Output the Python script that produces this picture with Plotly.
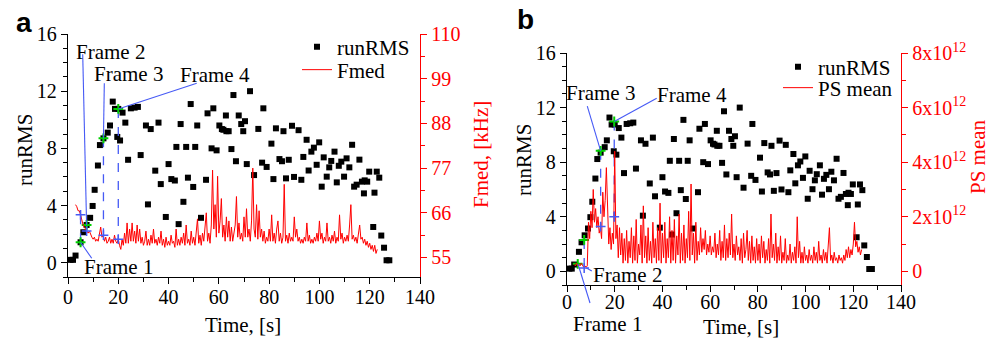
import plotly.graph_objects as go

# ---------------- data ----------------
RMS_T = [1.0, 2.0, 3.0, 5.0, 6.1, 7.4, 8.8, 9.8, 10.6, 11.9, 12.7, 14.1, 15.8, 16.7, 17.8, 18.7,
         19.6, 20.0, 20.7, 21.7, 22.8, 23.9, 25.0, 26.5, 27.8, 28.9, 31.0, 31.8, 32.9, 34.7, 36.0,
         36.9, 38.9, 40.0, 41.1, 42.5, 43.1, 44.0, 44.8, 45.9, 47.0, 47.7, 48.8, 49.8, 50.6, 51.4,
         52.9, 54.9, 55.5, 57.1, 57.8, 59.1, 60.2, 61.2, 61.8, 62.8, 63.0, 63.9, 65.0, 65.8, 66.8,
         67.9, 68.9, 69.7, 70.4, 71.1, 72.4, 74.0, 75.7, 77.2, 77.7, 79.0, 80.9, 81.7, 82.7, 84.1,
         85.1, 85.7, 86.7, 87.8, 89.1, 89.9, 91.7, 92.8, 93.6, 94.9, 95.7, 96.8, 97.8, 98.9, 99.9,
         100.9, 101.7, 102.9, 103.9, 104.7, 106.0, 106.9, 107.7, 108.7, 109.8, 110.8, 111.9, 113.0,
         113.8, 114.8, 115.9, 116.9, 117.7, 118.0, 119.0, 119.8, 121.4, 121.9, 122.8, 123.8, 124.6,
         125.7, 126.7, 127.8]
RMS = [0.2, 0.2, 0.5, 1.43, 2.13, 2.64, 3.14, 3.97, 5.1, 6.8, 8.23, 8.7, 9.1, 9.6, 11.27, 10.76,
       8.8, 10.76, 8.55, 10.5, 9.8, 7.2, 10.8, 10.85, 10.9, 7.53, 9.6, 4.08, 9.35, 6.44, 9.8,
       5.5, 3.2, 6.9, 5.85, 5.75, 8.1, 2.7, 9.7, 4.26, 8.1, 5.95, 11.1, 5.3, 8.1, 9.6,
       3.14, 5.8, 10.45, 8.0, 10.8, 7.86, 9.6, 9.35, 9.3, 10.3, 9.2, 9.2, 7.95, 11.73, 7.1,
       10.3, 9.7, 9.2, 9.9, 6.9, 12.0, 6.13, 9.36, 7.0, 10.8, 6.7, 8.33, 5.85, 9.4, 7.25,
       7.1, 9.2, 5.9, 7.2, 9.58, 6.0, 9.27, 5.8, 7.4, 8.6, 6.45, 7.77, 8.05, 6.85, 8.42,
       5.32, 7.37, 6.02, 6.67, 7.12, 7.77, 5.62, 6.78, 7.07, 6.02, 7.3, 6.67, 8.25,
       5.32, 5.46, 7.21, 5.67, 4.85, 5.76, 5.67, 6.37, 2.5, 4.9, 6.37, 5.95, 1.9,
       1.05, 0.17, 0.17]

# Fmed [kHz], sampled every 0.5 s from 3.0 s
FMED_T0 = 3.0
FMED_DT = 0.5
FMED = [68, 67.5, 66.5, 66.5, 65.5, 64, 63, 62.5, 62, 61.5, 61, 61.5, 60.5, 60, 59.5, 60, 59, 59.5,
        59, 60.5, 62.5, 60, 60.5, 59, 60, 58.5, 59, 60, 58.5, 59.5, 58.5, 60.5, 59, 58.5, 59.5,
        58, 57, 59.5, 58, 61, 58.5, 63.5, 58.5, 62, 59, 63.5, 59, 61.5, 58.5, 63, 59, 62, 58.5, 60, 58,
        59, 61.5, 58, 59.5, 58, 60.5, 58.5, 62, 58.5, 59.5, 58, 60, 58.5, 61.5, 58, 59.5, 57.5, 60, 58, 59,
        58, 60.5, 58.5, 59, 57.5, 62, 58, 59.5, 58, 60, 58.5, 61, 58, 63, 58.5, 59.5, 58, 61.5, 58.5, 60,
        58, 62, 64.5, 58.5, 60.5, 58, 61, 59, 62, 66, 59, 61, 58.5, 63, 76.5, 62, 68, 60, 75, 61,
        64, 69.5, 60, 63, 59, 65, 60, 64, 59, 62.5, 59, 61, 63, 70, 60, 63.5, 59.5, 61, 59, 65,
        60, 67, 60, 62, 59, 64, 77, 62, 60, 68, 59.5, 66.5, 60, 62, 59, 61.5, 58.5, 60, 59, 62,
        59, 65.5, 59, 61, 58.5, 62, 64, 59, 61, 58.5, 60, 73, 59, 60.5, 58.5, 61, 59, 60, 59, 65,
        60, 62, 59, 60, 58.5, 59.5, 58.5, 60, 59, 63.5, 59, 60.5, 58.5, 59.5, 58.5, 60, 59, 61, 59, 64,
        59.5, 61, 58.5, 60, 59, 63.5, 59, 60, 58.5, 60.5, 59, 61.5, 58.5, 60, 59, 65.5, 59.5, 61, 58.5, 60,
        59, 60.5, 59, 63, 68, 59.5, 60.5, 59, 60, 58.5, 60.5, 63, 59.5, 60, 58.5, 59.5, 58, 59, 57.5, 58.5,
        57, 58, 56.5, 58, 56, 57]

# PS mean [x10^12], sampled every 0.5 s from 3.0 s
PS_T0 = 3.0
PS_DT = 0.5
PS_MEAN_E12 = [0.25, 0.2, 0.3, 0.2, 0.25, 0.2, 0.3, 0.2, 0.15, 0.2, 0.15, 0.2,
               1.8, 1.2, 2.2, 1.6, 3.0, 1.8, 2.3, 1.6, 2.0, 1.4, 1.6, 1.2, 2.9, 2.0, 2.6, 3.8, 2.0, 1.0,
               1.6, 0.8, 1.4, 1.0, 4.4,
               1.2, 1.7, 0.5, 1.6, 0.6, 1.4, 0.3, 1.2, 0.4, 1.5, 0.3, 1.1, 0.5, 1.6, 0.3, 1.3, 0.4, 1.9,
               0.3, 1.0, 0.6, 1.7, 0.3, 2.4, 0.5, 1.3, 0.3, 1.6, 0.4, 1.1, 0.3, 1.8, 0.5, 1.2, 0.3, 1.6,
               0.4, 2.5, 0.3, 1.4,
               0.5, 1.8, 0.3, 1.2, 0.5, 2.0, 0.3, 1.5, 0.4, 1.9, 0.3, 1.3, 0.6, 2.1, 0.3, 1.4, 0.4, 1.7,
               0.3, 1.2, 0.5, 2.2, 0.4, 3.2, 0.6, 1.4, 0.3, 1.8, 0.4, 1.1, 0.6, 1.6, 0.7, 1.2, 0.8, 1.5,
               0.6, 1.0, 0.7, 1.3,
               0.6, 0.9, 0.7, 1.4, 0.5, 1.0, 0.6, 1.5, 0.4, 1.1, 0.5, 1.7, 0.4, 1.2, 0.5, 1.4, 0.6, 2.1,
               0.5, 1.0, 0.4, 1.3, 0.6, 0.9, 0.4, 1.2, 0.3, 1.4, 0.5, 0.8, 1.5, 0.4, 1.1, 0.3, 1.3, 0.4,
               0.9, 0.3, 1.2, 0.4,
               1.0, 0.3, 1.3, 0.5, 1.1, 0.3, 0.8, 0.4, 1.2, 0.3, 2.1, 0.5, 1.0, 0.4, 1.4, 0.3, 0.9, 0.4,
               1.3, 0.3, 0.7, 0.4, 1.2, 0.3, 0.6, 0.4, 1.0, 0.3, 0.7, 0.4, 0.9, 0.3, 2.0, 0.5, 1.1, 0.3,
               0.7, 0.3, 0.9, 0.4,
               0.6, 0.3, 0.8, 0.4, 0.6, 0.3, 0.9, 0.4, 0.7, 0.3, 1.1, 0.4, 0.6, 0.3, 0.8, 0.4, 0.7, 0.3,
               1.0, 1.6, 0.4, 0.6, 0.3, 0.7, 0.4, 0.5, 0.3, 0.6, 0.4, 0.5, 0.3, 0.6, 0.4, 0.8, 0.5, 0.9,
               0.5, 0.8, 0.6, 1.0, 1.8, 0.9, 1.1, 0.7, 0.9, 0.6, 0.8]

# Frames marked in each panel
A_FRAME_T = [5.0, 7.4, 14.1, 20.0]
A_FRAME_RMS = [1.43, 2.64, 8.7, 10.76]
A_FRAME_FMED = [65.5, 61.5, 60.5, 59.5]
B_FRAME_T = [4.5, 7.2, 14.1, 19.8]
B_FRAME_RMS = [0.55, 2.3, 8.83, 10.98]
B_FRAME_PS_E12 = [0.25, 0.12, 1.64, 2.0]
FRAME_NAMES = ["Frame 1", "Frame 2", "Frame 3", "Frame 4"]

# axis ranges / ticks
X_RANGE = [0, 140]
RMS_RANGE = [-1, 16]
FMED_RANGE = [50.2, 110]
PS_RANGE_E12 = [-0.5, 8]
PS_TICKS_E12 = [0, 2, 4, 6, 8]
PS_TICKTEXT = ["0", "2x10<sup>12</sup>", "4x10<sup>12</sup>", "6x10<sup>12</sup>", "8x10<sup>12</sup>"]

# ---------------- helpers ----------------
SERIF = "Liberation Serif"
SANS = "Liberation Sans"
BLUE = "rgb(70,90,245)"
GREEN = "#00d000"
W, H = 1000, 339


def fmed_to_rms(v):
    return RMS_RANGE[0] + (v - FMED_RANGE[0]) / (FMED_RANGE[1] - FMED_RANGE[0]) * (RMS_RANGE[1] - RMS_RANGE[0])


def ps_to_rms(v):
    return RMS_RANGE[0] + (v - PS_RANGE_E12[0]) / (PS_RANGE_E12[1] - PS_RANGE_E12[0]) * (RMS_RANGE[1] - RMS_RANGE[0])


def px(x):
    return x / W


def py(y):
    return 1 - y / H


fmed_t = [FMED_T0 + i * FMED_DT for i in range(len(FMED))]
ps_t = [PS_T0 + i * PS_DT for i in range(len(PS_MEAN_E12))]

fig = go.Figure()

# ---------------- panel a ----------------
fig.add_trace(go.Scatter(x=RMS_T, y=RMS, mode="markers", name="runRMS",
                         marker=dict(symbol="square", size=6, color="black"),
                         xaxis="x", yaxis="y", legend="legend"))
for t, r, f in zip(A_FRAME_T, A_FRAME_RMS, A_FRAME_FMED):
    fig.add_trace(go.Scatter(x=[t, t], y=[r, fmed_to_rms(f)], mode="lines",
                             line=dict(color=BLUE, width=1.3, dash="dash"),
                             showlegend=False, xaxis="x", yaxis="y"))
fig.add_trace(go.Scatter(x=fmed_t, y=FMED, mode="lines", name="Fmed",
                         line=dict(color="red", width=1),
                         xaxis="x", yaxis="y2", legend="legend2"))
fig.add_trace(go.Scatter(x=A_FRAME_T, y=A_FRAME_FMED, mode="markers",
                         marker=dict(symbol="cross-thin", size=7, line=dict(color=BLUE, width=1.5)),
                         showlegend=False, xaxis="x", yaxis="y2"))
fig.add_trace(go.Scatter(x=A_FRAME_T, y=A_FRAME_RMS, mode="markers",
                         marker=dict(symbol="cross-thin", size=7, line=dict(color=GREEN, width=2)),
                         showlegend=False, xaxis="x", yaxis="y"))

# ---------------- panel b ----------------
fig.add_trace(go.Scatter(x=RMS_T, y=RMS, mode="markers", name="runRMS",
                         marker=dict(symbol="square", size=6, color="black"),
                         xaxis="x2", yaxis="y3", legend="legend3"))
for t, r, p in zip(B_FRAME_T[1:], B_FRAME_RMS[1:], B_FRAME_PS_E12[1:]):
    fig.add_trace(go.Scatter(x=[t, t], y=[r, ps_to_rms(p)], mode="lines",
                             line=dict(color=BLUE, width=1.3, dash="dash"),
                             showlegend=False, xaxis="x2", yaxis="y3"))
fig.add_trace(go.Scatter(x=ps_t, y=[v * 1e12 for v in PS_MEAN_E12], mode="lines", name="PS mean",
                         line=dict(color="red", width=1),
                         xaxis="x2", yaxis="y4", legend="legend4"))
fig.add_trace(go.Scatter(x=B_FRAME_T[1:], y=[v * 1e12 for v in B_FRAME_PS_E12[1:]], mode="markers",
                         marker=dict(symbol="cross-thin", size=7, line=dict(color=BLUE, width=1.5)),
                         showlegend=False, xaxis="x2", yaxis="y4"))
fig.add_trace(go.Scatter(x=B_FRAME_T, y=B_FRAME_RMS, mode="markers",
                         marker=dict(symbol="cross-thin", size=7, line=dict(color=GREEN, width=2)),
                         showlegend=False, xaxis="x2", yaxis="y3"))


# ---------------- axes ----------------
def base_axis(color, size=20):
    return dict(showgrid=False, zeroline=False, showline=True, linewidth=1.4, linecolor=color,
                ticks="outside", ticklen=6, tickwidth=1.4, tickcolor=color, automargin=False,
                tickfont=dict(family=SERIF, size=size, color=color))


def minor(color, **kw):
    d = dict(ticks="outside", ticklen=4, tickwidth=1.2, tickcolor=color)
    d.update(kw)
    return d


xa = base_axis("black")
xa.update(domain=[px(68), px(420)], range=X_RANGE, anchor="y", tick0=0, dtick=20,
          ticklabelstandoff=-4, minor=minor("black", dtick=10, tick0=0))
ya = base_axis("black")
ya.update(domain=[py(277), py(34)], range=RMS_RANGE, anchor="x", tick0=0, dtick=4,
          minor=minor("black", dtick=1, tick0=0))
ya2 = base_axis("red")
ya2.update(range=FMED_RANGE, overlaying="y", side="right", anchor="x", tick0=55, dtick=11,
           minor=minor("red", dtick=5.5, tick0=55))

xb = base_axis("black")
xb.update(domain=[px(567), px(901)], range=X_RANGE, anchor="y3", tick0=0, dtick=20,
          ticklabelstandoff=-7, minor=minor("black", dtick=10, tick0=0))
yb = base_axis("black")
yb.update(domain=[py(285), py(53)], range=RMS_RANGE, anchor="x2", tick0=0, dtick=4,
          minor=minor("black", dtick=1, tick0=0))
yb2 = base_axis("red")
yb2.update(range=[v * 1e12 for v in PS_RANGE_E12], overlaying="y3", side="right", anchor="x2",
           tickmode="array", tickvals=[v * 1e12 for v in PS_TICKS_E12], ticktext=PS_TICKTEXT,
           minor=minor("red", tickmode="array", tickvals=[1e12, 3e12, 5e12, 7e12]))

# ---------------- annotations & leader lines ----------------
ann = []
shapes = []


def text(x, y, s, size=20, color="black", angle=0, family=SERIF, bold=False):
    ann.append(dict(x=px(x), y=py(y), xref="paper", yref="paper", text=f"<b>{s}</b>" if bold else s,
                    showarrow=False, textangle=angle, xanchor="center", yanchor="middle",
                    font=dict(family=family, size=size, color=color)))


def leader(xr, yr, tail, head):
    shapes.append(dict(type="line", xref=xr, yref=yr, x0=tail[0], y0=tail[1], x1=head[0], y1=head[1],
                       line=dict(color=BLUE, width=1.1)))


# panel letters and axis titles
text(24, 22, "a", size=28, family=SANS, bold=True)
text(525, 19, "b", size=28, family=SANS, bold=True)
text(25, 150, "runRMS", size=21, angle=-90)
text(481, 155, "Fmed, [kHz]", size=21, angle=-90, color="red")
text(243, 325, "Time, [s]", size=21)
text(524, 160, "runRMS", size=21, angle=-90)
text(978, 157, "PS mean", size=21, angle=-90, color="red")
text(741, 327, "Time, [s]", size=21)

# frame labels panel a
text(118, 267, FRAME_NAMES[0], size=21)
text(110, 52, FRAME_NAMES[1], size=21)
text(128, 74, FRAME_NAMES[2], size=21)
text(215, 75, FRAME_NAMES[3], size=21)
leader("x", "y", (9.43, 0.31), (A_FRAME_T[0], A_FRAME_RMS[0]))
leader("x", "y", (5.85, 14.58), (A_FRAME_T[1], A_FRAME_RMS[1]))
leader("x", "y", (14.44, 12.55), (A_FRAME_T[2], A_FRAME_RMS[2]))
leader("x", "y", (51.2, 12.55), (A_FRAME_T[3], A_FRAME_RMS[3]))

# frame labels panel b
text(607, 324, FRAME_NAMES[0], size=21)
text(627, 275, FRAME_NAMES[1], size=21)
text(600, 93, FRAME_NAMES[2], size=21)
text(692, 95, FRAME_NAMES[3], size=21)
shapes.append(dict(type="line", xref="paper", yref="paper", x0=px(590), y0=py(303), x1=px(578), y1=py(264),
                   line=dict(color=BLUE, width=1.1)))
leader("x2", "y3", (10.4, 0.02), (8.0, 0.27))
leader("x2", "y3", (8.5, 12.11), (B_FRAME_T[2], B_FRAME_RMS[2]))
leader("x2", "y3", (37.6, 12.68), (B_FRAME_T[3], B_FRAME_RMS[3]))


def legend_at(x_text, y_mid):
    return dict(x=px(x_text - 40), y=py(y_mid), xanchor="left", yanchor="middle",
                bgcolor="rgba(255,255,255,0)", borderwidth=0,
                font=dict(family=SERIF, size=21, color="black"))


fig.update_layout(
    width=W, height=H, autosize=False,
    margin=dict(l=0, r=0, t=0, b=0, autoexpand=False),
    paper_bgcolor="white", plot_bgcolor="white",
    xaxis=xa, yaxis=ya, yaxis2=ya2,
    xaxis2=xb, yaxis3=yb, yaxis4=yb2,
    legend=legend_at(337, 47),
    legend2=legend_at(337, 70),
    legend3=legend_at(818, 67),
    legend4=legend_at(818, 88),
    annotations=ann,
    shapes=shapes,
    showlegend=True,
)

fig.write_html("out.html")
